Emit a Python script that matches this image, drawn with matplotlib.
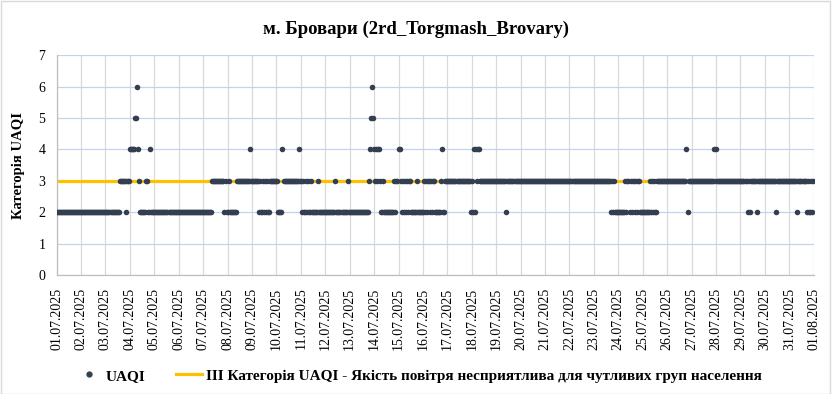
import matplotlib
matplotlib.use("Agg")
import matplotlib.pyplot as plt
import matplotlib.dates as mdates
from matplotlib.lines import Line2D
from matplotlib.patches import Rectangle
import numpy as np
import pandas as pd

plt.rcParams["font.family"] = ["Liberation Serif", "DejaVu Serif"]

START = "2025-07-01 00:00"
END = "2025-08-01 00:00"

# hourly UAQI category (category, hours)
UAQI_RUNS = [
    (2, 62), (3, 6), (2, 1), (3, 3), (4, 5), (5, 2), (6, 1), (4, 1),
    (3, 1), (2, 6), (3, 2), (2, 2), (4, 1), (2, 60), (3, 12),
    (2, 1), (3, 1), (2, 2), (3, 1), (2, 7), (3, 13), (4, 1), (3, 8),
    (2, 1), (3, 1), (2, 2), (3, 1), (2, 1), (3, 1), (2, 1), (3, 1), (2, 2),
    (3, 8), (2, 4), (4, 1), (3, 15), (4, 1), (3, 2),
    (2, 1), (3, 1), (2, 2), (3, 1), (2, 1), (3, 1), (2, 2), (3, 1),
    (2, 6), (3, 1), (2, 16), (3, 1), (2, 11), (3, 1), (2, 20),
    (3, 1), (4, 1), (5, 1), (6, 1), (5, 1), (4, 1), (3, 1), (4, 1), (3, 1),
    (4, 2), (3, 1), (2, 2), (3, 1), (2, 10),
    (3, 1), (2, 1), (3, 2), (4, 2), (3, 1), (2, 1), (3, 1), (2, 1), (3, 1),
    (2, 1), (3, 1), (2, 1), (3, 2), (2, 6), (3, 1), (2, 6),
    (3, 1), (2, 1), (3, 1), (2, 1), (3, 2), (2, 1), (3, 1), (2, 1), (3, 2),
    (2, 6), (3, 1), (4, 1), (2, 2), (3, 25),
    (2, 1), (3, 1), (2, 1), (4, 1), (2, 1), (4, 1), (3, 1), (4, 2),
    (3, 26), (2, 1), (3, 102), (2, 1), (3, 1), (2, 1), (3, 1), (2, 10),
    (3, 1), (2, 1), (3, 2), (2, 1), (3, 1), (2, 1), (3, 2), (2, 1), (3, 1),
    (2, 1), (3, 2), (2, 10), (3, 1), (2, 1), (3, 1), (2, 1), (3, 1), (2, 2),
    (3, 29), (4, 1), (2, 1), (3, 25), (4, 1), (3, 1), (4, 1), (3, 30),
    (2, 1), (3, 1), (2, 1), (3, 6), (2, 1), (3, 18), (2, 1), (3, 20),
    (2, 1), (3, 8), (2, 1), (3, 1), (2, 2), (3, 1), (2, 1), (3, 1),
]
THRESHOLD = 3

TITLE = "м. Бровари (2rd_Torgmash_Brovary)"
YLABEL = "Категорія UAQI"
LABEL_UAQI = "UAQI"
LABEL_LINE = "ІІІ Категорія UAQI - Якість повітря несприятлива для чутливих груп населення"

DOT_COLOR = "#333f50"
LINE_COLOR = "#FFC000"

values = np.concatenate([np.full(n, v) for v, n in UAQI_RUNS])
times = pd.date_range(START, periods=len(values), freq="h")

fig = plt.figure(figsize=(8.32, 3.94), dpi=100)
ax = fig.add_axes([0.068, 0.302, 0.910, 0.558])

ax.axhline(THRESHOLD, color=LINE_COLOR, linewidth=2.3, zorder=2)
ax.plot(times, values, "o", ms=4.0, color=DOT_COLOR, mec="none", zorder=3)

ax.set_xlim(pd.Timestamp(START), pd.Timestamp(END))
ax.set_ylim(0, 7)
ax.set_yticks(range(0, 8))
ax.xaxis.set_major_locator(mdates.DayLocator())
ax.xaxis.set_major_formatter(mdates.DateFormatter("%d.%m.%Y"))
ax.tick_params(axis="x", rotation=90, labelsize=10, length=0, pad=9)
ax.tick_params(axis="y", labelsize=10, length=0, pad=8)

ax.grid(True, axis="y", color="#c5d3ea", linewidth=0.9, zorder=0)
ax.grid(True, axis="x", color="#d9d9d9", linewidth=0.9, zorder=0)
ax.set_axisbelow(True)
for side in ("top", "right"):
    ax.spines[side].set_visible(False)
for side in ("left", "bottom"):
    ax.spines[side].set_color("#bfbfbf")
    ax.spines[side].set_linewidth(0.9)

ax.set_ylabel(YLABEL, fontsize=10.5, fontweight="bold", labelpad=10)
fig.text(0.5, 0.925, TITLE, ha="center", va="center",
         fontsize=13.5, fontweight="bold")

handles = [
    Line2D([], [], marker="o", ls="", color=DOT_COLOR, ms=3.5),
    Line2D([], [], color=LINE_COLOR, lw=2.3),
]
fig.legend(handles, [LABEL_UAQI, LABEL_LINE], loc="center",
           bbox_to_anchor=(0.503, 0.046), ncol=2, frameon=False,
           prop=dict(weight="bold", size=11), handlelength=1.7,
           columnspacing=2.0, handletextpad=0.25)

fig.patches.append(Rectangle((0.001, 0.001), 0.997, 0.996, transform=fig.transFigure,
                             fill=False, edgecolor="#d9d9d9", linewidth=1))

fig.savefig("out.png", dpi=100)
